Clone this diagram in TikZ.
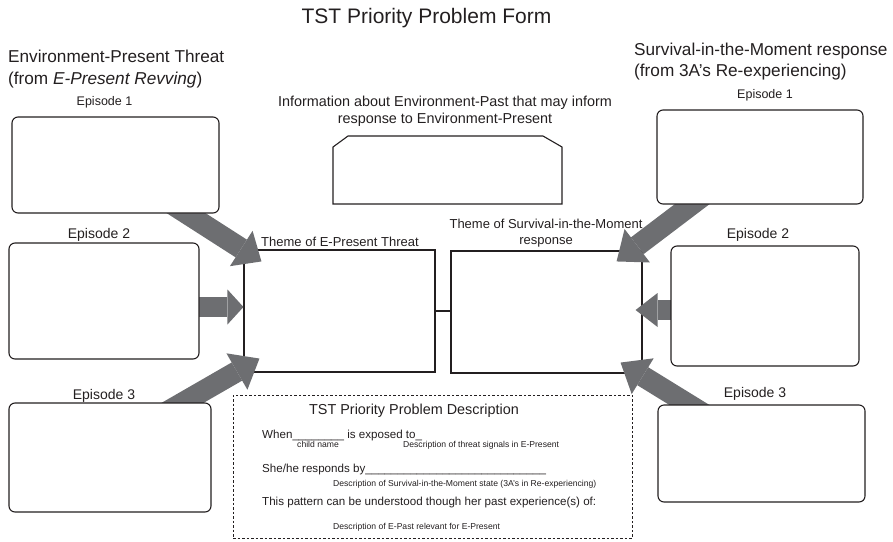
\documentclass[tikz,border=0pt]{standalone}
\usepackage{fontspec}
\setmainfont{Liberation Sans}
\usetikzlibrary{arrows.meta,calc}
\pgfdeclarelayer{back}
\pgfdeclarelayer{mid}
\pgfsetlayers{back,mid,main}
\definecolor{ink}{HTML}{231F20}
\definecolor{arrowgray}{HTML}{6D6E71}
\newcommand{\fsz}[2]{\fontsize{#1pt}{#2pt}\selectfont}
\begin{document}
\begin{tikzpicture}[x=1pt,y=-1pt,
  every node/.style={text=ink, inner sep=0pt},
  epbox/.style={draw=ink, line width=1.1pt, rounded corners=6pt, fill=white},
  themebox/.style={draw=ink, line width=1.1pt, minimum width=191pt, minimum height=122pt},
  fatarrow/.style n args={3}{draw=arrowgray, line width=#1,
    -{Triangle[length=#2, width=#3, line width=0pt]}},
  eplabel/.style={anchor=base},
  small/.style={font=\fsz{8.6}{10}},
  body/.style={font=\fsz{11.6}{14}, anchor=base west}]
\useasboundingbox (0,0) rectangle (893,541);

% headings
\node[anchor=base, font=\fsz{21}{25}] (title) at (426.5,23) {TST Priority Problem Form};
\node[anchor=north west, align=left, font=\fsz{17.2}{21.5}] (lefthead) at (8,50)
  {Environment-Present Threat\\(from \textit{E-Present Revving})};
\node[anchor=north west, align=left, font=\fsz{17.2}{21}] (righthead) at (634,43)
  {Survival-in-the-Moment response\\(from 3A’s Re-experiencing)};
\node[align=center, font=\fsz{14.4}{17}] (pastinfo) at (445,111)
  {Information about Environment-Past that may inform\\response to Environment-Present};

% episode boxes, left column
\node[epbox, minimum width=207pt, minimum height=96pt] (l1) at (115.5,165) {};
\node[epbox, minimum width=190pt, minimum height=116pt] (l2) at (104,301) {};
\node[epbox, minimum width=202pt, minimum height=109pt] (l3) at (110,457.5) {};
\node[eplabel, font=\fsz{12.5}{15}] (l1lab) at (104.5,105) {Episode 1};
\node[eplabel, font=\fsz{14}{17}] (l2lab) at (99,238) {Episode 2};
\node[eplabel, font=\fsz{14}{17}] (l3lab) at (104,399) {Episode 3};

% episode boxes, right column
\node[epbox, minimum width=206pt, minimum height=94pt] (r1) at (760,157) {};
\node[epbox, minimum width=188pt, minimum height=120pt] (r2) at (765,306) {};
\node[epbox, minimum width=207pt, minimum height=97pt] (r3) at (761.5,453.5) {};
\node[eplabel, font=\fsz{12.5}{15}] (r1lab) at (765,98) {Episode 1};
\node[eplabel, font=\fsz{14}{17}] (r2lab) at (758,238) {Episode 2};
\node[eplabel, font=\fsz{14}{17}] (r3lab) at (755,397) {Episode 3};

% theme boxes and the link between them
\begin{pgfonlayer}{back}
\node[themebox] (tl) at (339.5,311) {};
\node[themebox] (tr) at (546.5,312) {};
\draw[draw=ink, line width=1.1pt] (tl.east) -- (tl.east -| tr.west);
\end{pgfonlayer}
\node[anchor=base, font=\fsz{13}{16}] (tllab) at (340,246) {Theme of E-Present Threat};
\node[anchor=base, align=center, font=\fsz{13}{16}] (trlab) at (546,244.5)
  {Theme of Survival-in-the-Moment\\response};

% box for the past environment
\draw[draw=ink, line width=1.1pt] (333,204) -- (333,147) -- (348,136) -- (543,136)
  -- (562,147) -- (562,204) -- cycle;

% block arrows into the theme boxes
\begin{pgfonlayer}{mid}
\draw[fatarrow={21pt}{24pt}{42pt}] ($(l1.south west)+(155,-13)$) -- ($(tl.north west)+(18,12)$);
\draw[fatarrow={20pt}{16pt}{35pt}] ($(l2.east)+(-10,6)$) -- ($(tl.west)+(0,-4)$);
\draw[fatarrow={21pt}{26pt}{42pt}] ($(l3.north west)+(154,12)$) -- ($(tl.south west)+(16,-14)$);
\draw[fatarrow={21pt}{26pt}{42pt}] ($(r1.south west)+(51,-12)$) -- ($(tr.north east)+(-26,11)$);
\draw[fatarrow={20pt}{22pt}{34pt}] ($(r2.west)+(10,4)$) -- ($(tr.east)+(-7,-2)$);
\draw[fatarrow={21pt}{26pt}{42pt}] ($(r3.north west)+(49,11)$) -- ($(tr.south east)+(-22,-11)$);
\end{pgfonlayer}

% problem description
\node[draw=ink, dash pattern=on 2.5pt off 2pt, line width=1pt,
  minimum width=399pt, minimum height=143pt] (desc) at (432.5,466.5) {};
\node[anchor=base, font=\fsz{14.4}{17}] (desctitle) at (414,414) {TST Priority Problem Description};
\node[body] (when) at (262,438) {When\_\_\_\_\_\_\_\_ is exposed to\_};
\node[small, anchor=base] (child) at (318,447.5) {child name};
\node[small, anchor=base west] (threat) at (403,447.5) {Description of threat signals in E-Present};
\node[body] (responds) at (262,472.5) {She/he responds by\_\_\_\_\_\_\_\_\_\_\_\_\_\_\_\_\_\_\_\_\_\_\_\_\_\_\_\_};
\node[small, anchor=base west] (state) at (333,486) {Description of Survival-in-the-Moment state (3A’s in Re-experiencing)};
\node[body] (pattern) at (262,505) {This pattern can be understood though her past experience(s) of:};
\node[small, anchor=base west] (epast) at (333,529) {Description of E-Past relevant for E-Present};
\end{tikzpicture}
\end{document}
